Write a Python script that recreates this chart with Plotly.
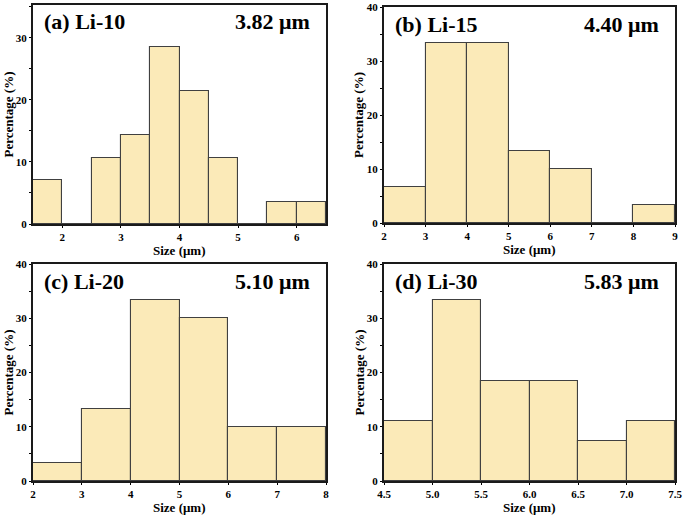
import plotly.graph_objects as go

# ---- data ----
a_edges_start = [1.5, 2.0, 2.5, 3.0, 3.5, 4.0, 4.5, 5.0, 5.5, 6.0]
a_values = [7.14, 0.0, 10.71, 14.29, 28.57, 21.43, 10.71, 0.0, 3.57, 3.57]
a_width = 0.5

b_edges_start = [2, 3, 4, 5, 6, 7, 8]
b_values = [6.67, 33.33, 33.33, 13.33, 10.0, 0.0, 3.33]
b_width = 1.0

c_edges_start = [2, 3, 4, 5, 6, 7]
c_values = [3.33, 13.33, 33.33, 30.0, 10.0, 10.0]
c_width = 1.0

d_edges_start = [4.5, 5.0, 5.5, 6.0, 6.5, 7.0]
d_values = [11.11, 33.33, 18.52, 18.52, 7.41, 11.11]
d_width = 0.5

labels = ["(a) Li-10", "(b) Li-15", "(c) Li-20", "(d) Li-30"]
means = ["3.82 μm", "4.40 μm", "5.10 μm", "5.83 μm"]

a_xticks = [2, 3, 4, 5, 6]
b_xticks = [2, 3, 4, 5, 6, 7, 8, 9]
c_xticks = [2, 3, 4, 5, 6, 7, 8]
d_xticks = [4.5, 5.0, 5.5, 6.0, 6.5, 7.0, 7.5]
d_xticktext = ["4.5", "5.0", "5.5", "6.0", "6.5", "7.0", "7.5"]

# ---- layout constants ----
W, H = 685, 517
FONT = "Liberation Serif"
FILL = "#FBEAB8"
EDGE = "#404040"

panels = [
    dict(starts=a_edges_start, vals=a_values, w=a_width, xr=[1.5, 6.5], yr=[0, 35.3],
         xt=a_xticks, xtt=[str(v) for v in a_xticks], px=(33, 326), py=(5, 224)),
    dict(starts=b_edges_start, vals=b_values, w=b_width, xr=[2, 9], yr=[0, 40],
         xt=b_xticks, xtt=[str(v) for v in b_xticks], px=(384, 675), py=(7, 223)),
    dict(starts=c_edges_start, vals=c_values, w=c_width, xr=[2, 8], yr=[0, 40],
         xt=c_xticks, xtt=[str(v) for v in c_xticks], px=(33, 326), py=(264, 481)),
    dict(starts=d_edges_start, vals=d_values, w=d_width, xr=[4.5, 7.5], yr=[0, 40],
         xt=d_xticks, xtt=d_xticktext, px=(384, 675), py=(264, 481)),
]

fig = go.Figure()
annotations = []
for i, p in enumerate(panels):
    n = "" if i == 0 else str(i + 1)
    xa, ya = "x" + n, "y" + n
    centers = [s + p["w"] / 2 for s in p["starts"]]
    fig.add_trace(go.Bar(
        x=centers, y=p["vals"], width=[p["w"]] * len(centers),
        marker=dict(color=FILL, line=dict(color=EDGE, width=1.1)),
        xaxis=xa, yaxis=ya, showlegend=False, hoverinfo="skip",
    ))
    x0, x1 = p["px"]
    y0, y1 = p["py"]
    xdom = [x0 / W, x1 / W]
    ydom = [1 - y1 / H, 1 - y0 / H]
    axcommon = dict(showline=True, mirror=True, linecolor="#1a1a1a", linewidth=2,
                    showgrid=False, zeroline=False, ticks="outside", ticklen=2,
                    tickwidth=1.2, tickcolor="black", automargin=False,
                    tickfont=dict(family=FONT, size=11, color="black", weight="bold"))
    fig.layout["xaxis" + n] = dict(domain=xdom, range=p["xr"], anchor=ya,
                                   tickvals=p["xt"], ticktext=p["xtt"], **axcommon)
    fig.layout["yaxis" + n] = dict(domain=ydom, range=p["yr"], anchor=xa,
                                   tickvals=[0, 10, 20, 30, 40] if p["yr"][1] >= 40 else [0, 10, 20, 30],
                                   minor=dict(tickvals=[5, 15, 25, 35], ticks="outside", ticklen=2,
                                              tickwidth=1, tickcolor="black"),
                                   **axcommon)
    # panel label and mean size
    annotations.append(dict(x=(x0 + 9) / W, y=1 - (y0 + 17) / H, xref="paper", yref="paper",
                            text=labels[i], showarrow=False, xanchor="left", yanchor="middle",
                            font=dict(family=FONT, size=22, color="black", weight="bold")))
    annotations.append(dict(x=(x1 - 14) / W, y=1 - (y0 + 17) / H, xref="paper", yref="paper",
                            text=means[i], showarrow=False, xanchor="right", yanchor="middle",
                            font=dict(family=FONT, size=22, color="black", weight="bold")))
    # axis titles
    annotations.append(dict(x=(x0 + x1) / 2 / W, y=1 - (y1 + 26) / H, xref="paper", yref="paper",
                            text="Size (μm)", showarrow=False, xanchor="center", yanchor="middle",
                            font=dict(family=FONT, size=13, color="black", weight="bold")))
    annotations.append(dict(x=(x0 - 25) / W, y=1 - (y0 + y1) / 2 / H, xref="paper", yref="paper",
                            text="Percentage (%)", showarrow=False, textangle=-90,
                            xanchor="center", yanchor="middle",
                            font=dict(family=FONT, size=13, color="black", weight="bold")))

fig.update_layout(width=W, height=H, margin=dict(l=0, r=0, t=0, b=0),
                  paper_bgcolor="white", plot_bgcolor="white", bargap=0,
                  annotations=annotations)

fig.write_html("out.html", config={"displayModeBar": False},
               post_script="document.body.style.margin='0';document.body.style.overflow='hidden';")
